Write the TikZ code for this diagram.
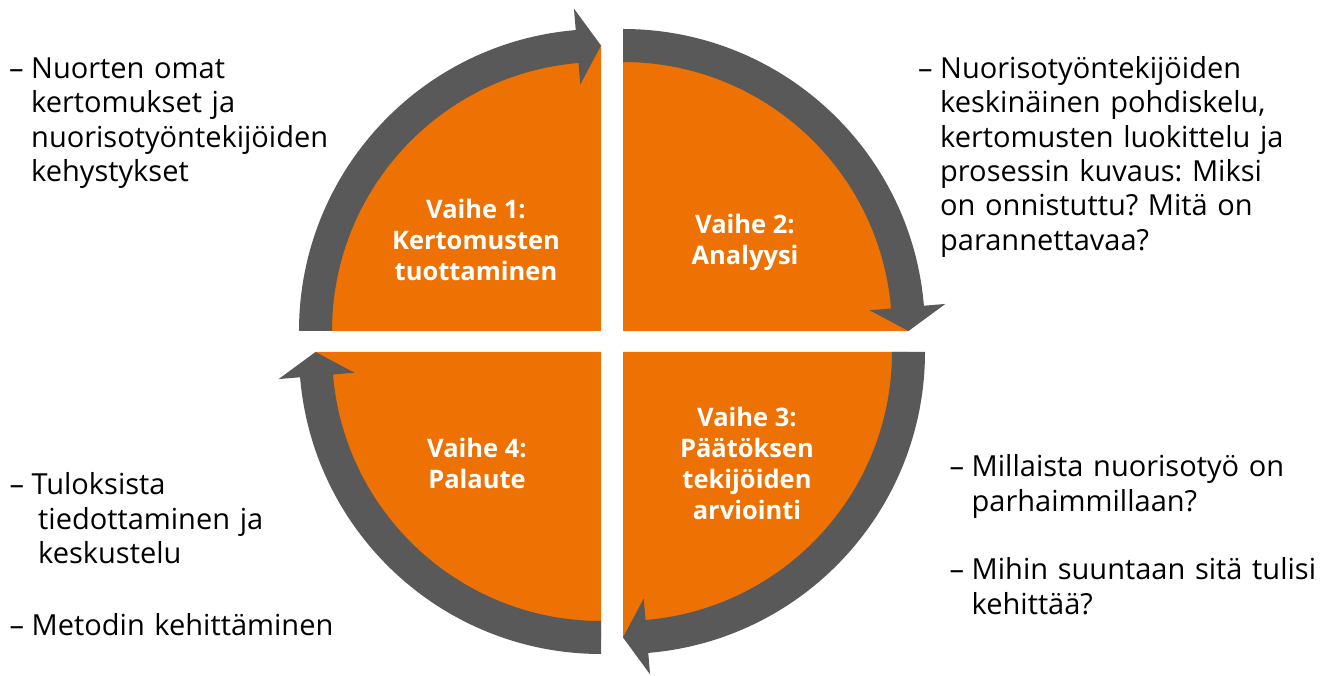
\documentclass[tikz,border=0pt]{standalone}
\usepackage{fontspec}
\setmainfont{Open Sans}
\usetikzlibrary{calc}
\definecolor{cycorange}{HTML}{ED7103}
\definecolor{cycgrey}{HTML}{595959}
\frenchspacing
\newcommand\quadarrow[4]{%
  \pgfmathsetmacro\qaB{#4+4.8}%
  \begin{scope}[shift={(#1,#2)}]
    \fill[cycgrey] (#3:302) arc[start angle=#3,end angle=\qaB,radius=302]
      -- (\qaB:323.5) -- (#4:285.5) -- (\qaB:247.5) -- (\qaB:269)
      arc[start angle=\qaB,end angle=#3,radius=269] -- cycle;
  \end{scope}}
\newcommand\quadfill[4]{%
  \begin{scope}[shift={(#1,#2)}]
    \fill[cycorange] (0,0) -- (#3:285.5) arc[start angle=#3,end angle=#4,radius=285.5] -- cycle;
  \end{scope}}
\tikzset{
  phase/.style={text=white, align=center, font=\fontsize{25.5}{31}\selectfont\bfseries, inner sep=0pt},
  note/.style={text=black, anchor=base west, inner sep=0pt, text width=500pt, align=left, font=\fontsize{29}{34.4}\selectfont\frenchspacing},
}
\newcommand\dsh{\llap{–\hspace{7.5pt}}}
\begin{document}
\begin{tikzpicture}[x=1pt,y=1pt]
\useasboundingbox (0,0) rectangle (1323,675);
\quadfill{601}{344}{90}{180}
\quadfill{623}{344}{0}{90}
\quadfill{623}{323}{270}{360}
\quadfill{601}{323}{180}{270}
\quadarrow{601}{344}{180}{90}
\quadarrow{623}{344}{90}{0}
\quadarrow{623}{323}{0}{-90}
\quadarrow{601}{323}{270}{180}
\node[phase] (p1) at (476,435) {Vaihe 1:\\Kertomusten\\tuottaminen};
\node[phase] (p2) at (745,433) {Vaihe 2:\\Analyysi};
\node[phase] (p3) at (747,211.5) {Vaihe 3:\\Päätöksen\\tekijöiden\\arviointi};
\node[phase] (p4) at (477,212) {Vaihe 4:\\Palaute};
\node[note] (t1) at (31,596.7) {\dsh Nuorten omat\\kertomukset ja\\nuorisotyöntekijöiden\\kehystykset};
\node[note] (t2) at (940,596.7) {\dsh Nuorisotyöntekijöiden\\keskinäinen pohdiskelu,\\kertomusten luokittelu ja\\prosessin kuvaus: Miksi\\on onnistuttu? Mitä on\\parannettavaa?};
\node[note] (t3) at (971.5,198.3) {\dsh Millaista nuorisotyö on\\parhaimmillaan?};
\node[note] (t4) at (971.5,95.1) {\dsh Mihin suuntaan sitä tulisi\\kehittää?};
\node[note] (t5) at (31.5,180) {\dsh Tuloksista\\\hspace*{6.5pt}tiedottaminen ja\\\hspace*{6.5pt}keskustelu};
\node[note] (t6) at (31.5,40) {\dsh Metodin kehittäminen};
\end{tikzpicture}
\end{document}
